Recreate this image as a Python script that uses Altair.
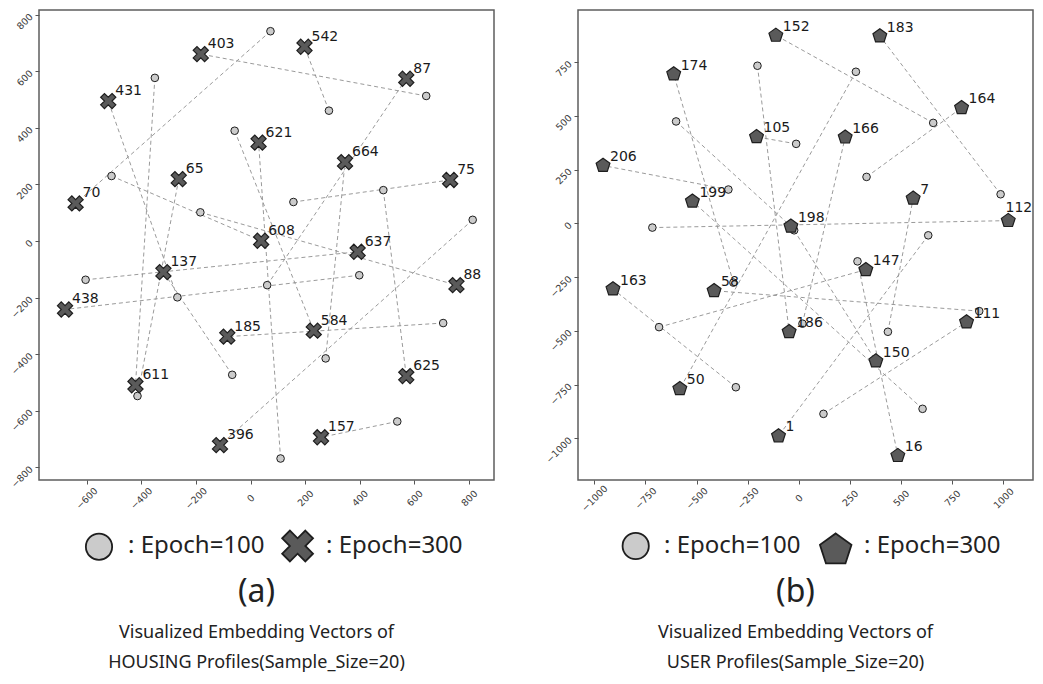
import altair as alt
import pandas as pd

# ---------------- Panel (a): HOUSING profiles ----------------
a_labels = [70, 611, 403, 542, 584, 608, 625, 75, 88, 396, 637, 438, 87, 431, 185, 664, 137, 65, 157, 621]
a_x300 = [-640, -421, -182, 197.5, 231.5, 39, 570, 730.5, 753.6, -111.7, 392, -678.7, 570, -520.6, -85, 345.9, -318.7, -262.6, 258, 29.5]
a_y300 = [133, -510, 661, 687, -317, 1, -477.5, 216, -156, -721.6, -38, -242, 574, 495, -338, 279, -110, 219, -694, 348]
a_x100 = [73, -350, 643, 287, -58, -508.6, 486, 157, -183.6, 813, -603.5, 398, 61, -267.6, 705, 275, -67, -413.6, 537, 110]
a_y100 = [742, 577, 513, 461, 390, 230, 180, 138, 101.5, 75, -137, -121, -156, -199, -290, -415, -473, -548, -638, -769]
a_xticks = [-600, -400, -200, 0, 200, 400, 600, 800]
a_yticks = [-800, -600, -400, -200, 0, 200, 400, 600, 800]
a_xdomain = [-774, 891]
a_ydomain = [-845, 817]

# ---------------- Panel (b): USER profiles ----------------
b_labels = [152, 183, 164, 105, 206, 112, 174, 186, 50, 150, 199, 198, 166, 7, 1, 147, 16, 58, 163, 111]
b_x300 = [-112.6, 396, 795.7, -207, -957.6, 1024, -612, -47.5, -582, 376.6, -520.6, -39, 226.6, 559, -99.5, 327.7, 484, -414.5, -909, 820]
b_y300 = [874, 871, 537, 402, 268.7, 12.4, 694, -504.6, -770, -641, 102.5, -14, 400.6, 116, -989, -215.8, -1080.6, -313.6, -306, -459.5]
b_x100 = [657, 986.6, 331, -13.2, -344.5, -716.4, -320, -202.4, 279, -23, 605, -600.4, 17.6, 435.5, 632.7, -683.6, 286.8, 882, -308, 120.4]
b_y100 = [467, 135, 215.7, 369.4, 157, -20, -276, 732.7, 704.7, -32.6, -863, 473.7, -467, -504.6, -56, -483, -177, -408.5, -762.5, -886.4]
b_xticks = [-1000, -750, -500, -250, 0, 250, 500, 750, 1000]
b_yticks = [-1000, -750, -500, -250, 0, 250, 500, 750]
b_xdomain = [-1080, 1145]
b_ydomain = [-1194, 992]

legend_labels = [": Epoch=100", ": Epoch=300"]
panel_letters = ["(a)", "(b)"]
caption_line1 = "Visualized Embedding Vectors of"
caption_line2 = ["HOUSING Profiles(Sample_Size=20)", "USER Profiles(Sample_Size=20)"]

X_PATH = "M0.5,-1L1,-0.5L0.5,0L1,0.5L0.5,1L0,0.5L-0.5,1L-1,0.5L-0.5,0L-1,-0.5L-0.5,-1L0,-0.5Z"
PENT_PATH = "M0,-1L0.951,-0.309L0.588,0.809L-0.588,0.809L-0.951,-0.309Z"

W, H = 455, 470
CAP_FONT = "Noto Sans"
LBL_FONT = "DejaVu Sans"
DARK = "#5a5a5a"
LIGHT = "#cbcbcb"
EDGE = "#1e1e1e"
one = pd.DataFrame({"k": [0]})


def txt(s, x, y, size, align="left"):
    return alt.Chart(one).mark_text(
        text=s, font=CAP_FONT, fontSize=size, align=align, baseline="alphabetic", color="#222222"
    ).encode(x=alt.value(x), y=alt.value(y))


def sym(shape, x, y, size, fill):
    return alt.Chart(one).mark_point(
        shape=shape, filled=True, fill=fill, stroke=EDGE, strokeWidth=1.8, opacity=1, size=size
    ).encode(x=alt.value(x), y=alt.value(y))


def panel(labels, x300, y300, x100, y100, xdom, ydom, xticks, yticks, shape300, size300,
          label_dy, idx, leg):
    df = pd.DataFrame({"label": [str(v) for v in labels], "x300": x300, "y300": y300,
                       "x100": x100, "y100": y100})
    xs = alt.Scale(domain=xdom, nice=False, zero=False)
    ys = alt.Scale(domain=ydom, nice=False, zero=False)
    xax = alt.Axis(values=xticks, title=None, grid=False, domain=False, tickSize=4, tickColor="#555555",
                   labelAngle=-45, labelAlign="center", labelBaseline="middle", labelPadding=14,
                   labelFont=LBL_FONT, labelFontSize=9.5, labelColor="#3a3a3a", labelFlush=False,
                   labelOverlap=False, format="d")
    yax = alt.Axis(values=yticks, title=None, grid=False, domain=False, tickSize=4, tickColor="#555555",
                   labelAngle=-45, labelAlign="right", labelBaseline="middle", labelPadding=4,
                   labelFont=LBL_FONT, labelFontSize=9.5, labelColor="#3a3a3a", labelFlush=False,
                   labelOverlap=False, format="d")
    base = alt.Chart(df)
    rules = base.mark_rule(strokeDash=[4, 3], color="#8f8f8f", strokeWidth=0.9).encode(
        x=alt.X("x100:Q", scale=xs, axis=xax), y=alt.Y("y100:Q", scale=ys, axis=yax),
        x2="x300:Q", y2="y300:Q")
    circles = base.mark_point(shape="circle", filled=True, fill=LIGHT, stroke=EDGE, strokeWidth=1,
                              opacity=1, size=58).encode(
        x=alt.X("x100:Q", scale=xs), y=alt.Y("y100:Q", scale=ys))
    marks300 = base.mark_point(shape=shape300, filled=True, fill=DARK, stroke=EDGE, strokeWidth=1.2,
                               opacity=1, size=size300).encode(
        x=alt.X("x300:Q", scale=xs), y=alt.Y("y300:Q", scale=ys))
    # labels that would run past the right frame are tucked inside it
    edge = xdom[1] - 34.0 / W * (xdom[1] - xdom[0])
    texts = base.mark_text(align="left", baseline="alphabetic", dx=7, dy=label_dy, font=LBL_FONT,
                           fontSize=14, color="#1a1a1a").encode(
        x=alt.X("x300:Q", scale=xs), y=alt.Y("y300:Q", scale=ys), text="label:N"
    ).transform_filter(alt.datum.x300 < edge)
    texts_edge = base.mark_text(align="right", baseline="alphabetic", dx=24, dy=-9, font=LBL_FONT,
                                fontSize=14, color="#1a1a1a").encode(
        x=alt.X("x300:Q", scale=xs), y=alt.Y("y300:Q", scale=ys), text="label:N"
    ).transform_filter(alt.datum.x300 >= edge)
    (cx, cy, t1x, s2x, s2y, s2size, t2x) = leg
    layers = [rules, circles, marks300, texts, texts_edge,
              sym("circle", cx, cy, 690, LIGHT),
              txt(legend_labels[0], t1x, 543, 24),
              sym(shape300, s2x, s2y, s2size, DARK),
              txt(legend_labels[1], t2x, 543, 24),
              txt(panel_letters[idx], 217.5, 592, 32, "center"),
              txt(caption_line1, 217.5, 628, 18, "center"),
              txt(caption_line2[idx], 217.5, 658, 18, "center")]
    return alt.layer(*layers).properties(width=W, height=H)


left = panel(a_labels, a_x300, a_y300, a_x100, a_y100, a_xdomain, a_ydomain, a_xticks, a_yticks,
             X_PATH, 230, -6, 0, (60, 536.7, 89, 258.6, 536, 950, 287))
right = panel(b_labels, b_x300, b_y300, b_x100, b_y100, b_xdomain, b_ydomain, b_xticks, b_yticks,
              PENT_PATH, 210, -4.5, 1, (57.7, 536, 86, 257.7, 540, 1100, 286))

chart = alt.hconcat(left, right, spacing=47).properties(
    padding={"left": 0, "top": 1, "right": 0, "bottom": 0}
).configure_view(stroke="#5e5e5e", strokeWidth=1.5)

chart.save("out.html", embed_options={"renderer": "svg", "actions": False})
